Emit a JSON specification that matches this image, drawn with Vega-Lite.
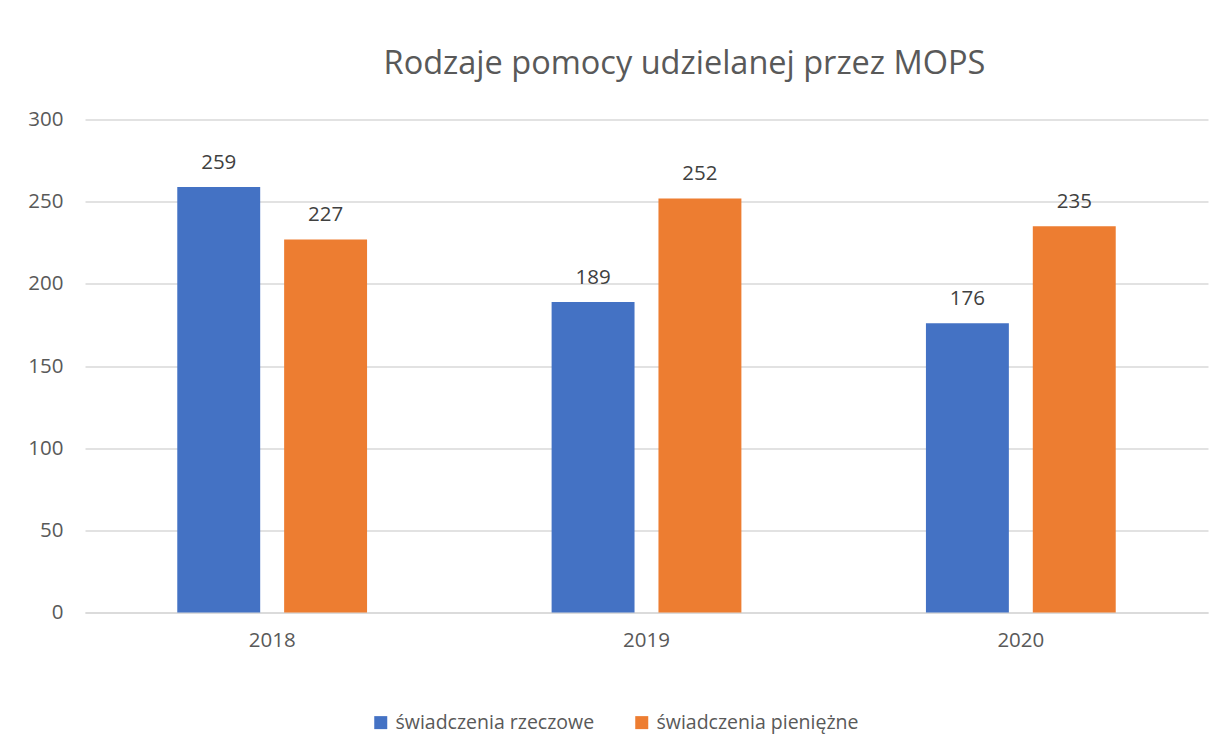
{
  "$schema": "https://vega.github.io/schema/vega-lite/v6.json",
  "width": 1123,
  "height": 493,
  "autosize": {"type": "none"},
  "padding": {"left": 85, "top": 119.5, "right": 18, "bottom": 140.5},
  "background": "white",
  "config": {
    "view": {"stroke": null},
    "font": "Open Sans"
  },
  "title": {
    "text": "Rodzaje pomocy udzielanej przez MOPS",
    "fontSize": 32.5,
    "font": "Open Sans",
    "fontWeight": "normal",
    "color": "#595959",
    "anchor": "middle",
    "dx": 38,
    "offset": 29
  },
  "data": {
    "values": [
      {"rok": "2018", "rodzaj": "świadczenia rzeczowe", "liczba": 259},
      {"rok": "2018", "rodzaj": "świadczenia pieniężne", "liczba": 227},
      {"rok": "2019", "rodzaj": "świadczenia rzeczowe", "liczba": 189},
      {"rok": "2019", "rodzaj": "świadczenia pieniężne", "liczba": 252},
      {"rok": "2020", "rodzaj": "świadczenia rzeczowe", "liczba": 176},
      {"rok": "2020", "rodzaj": "świadczenia pieniężne", "liczba": 235}
    ]
  },
  "encoding": {
    "x": {
      "field": "rok",
      "type": "nominal",
      "scale": {"paddingInner": 0.493, "paddingOuter": 0.2465},
      "axis": {
        "title": null,
        "labelAngle": 0,
        "labelFontSize": 20.5,
        "labelColor": "#595959",
        "labelPadding": 18,
        "ticks": false,
        "domainColor": "#d9d9d9",
        "domainWidth": 1.5
      }
    },
    "xOffset": {
      "field": "rodzaj",
      "type": "nominal",
      "sort": ["świadczenia rzeczowe", "świadczenia pieniężne"],
      "scale": {"paddingInner": 0.224, "paddingOuter": 0}
    },
    "y": {
      "field": "liczba",
      "type": "quantitative",
      "scale": {"domain": [0, 300]},
      "axis": {
        "title": null,
        "values": [0, 50, 100, 150, 200, 250, 300],
        "labelFontSize": 20.5,
        "labelColor": "#595959",
        "labelPadding": 22,
        "ticks": false,
        "domain": false,
        "gridColor": "#d9d9d9",
        "gridWidth": 1.5
      }
    }
  },
  "layer": [
    {
      "mark": {"type": "bar"},
      "encoding": {
        "color": {
          "field": "rodzaj",
          "type": "nominal",
          "sort": ["świadczenia rzeczowe", "świadczenia pieniężne"],
          "scale": {"domain": ["świadczenia rzeczowe", "świadczenia pieniężne"], "range": ["#4472C4", "#ED7D31"]},
          "legend": {
            "title": null,
            "orient": "none",
            "direction": "horizontal",
            "legendX": 286,
            "legendY": 593,
            "padding": 0,
            "symbolType": "square",
            "symbolSize": 169,
            "symbolStrokeWidth": 0,
            "labelFontSize": 19.5,
            "labelColor": "#595959",
            "labelOffset": 5,
            "labelLimit": 0,
            "columnPadding": 37
          }
        }
      }
    },
    {
      "mark": {"type": "text", "baseline": "alphabetic", "dy": -18, "fontSize": 20.5, "color": "#404040"},
      "encoding": {
        "text": {"field": "liczba", "type": "quantitative"}
      }
    }
  ]
}
